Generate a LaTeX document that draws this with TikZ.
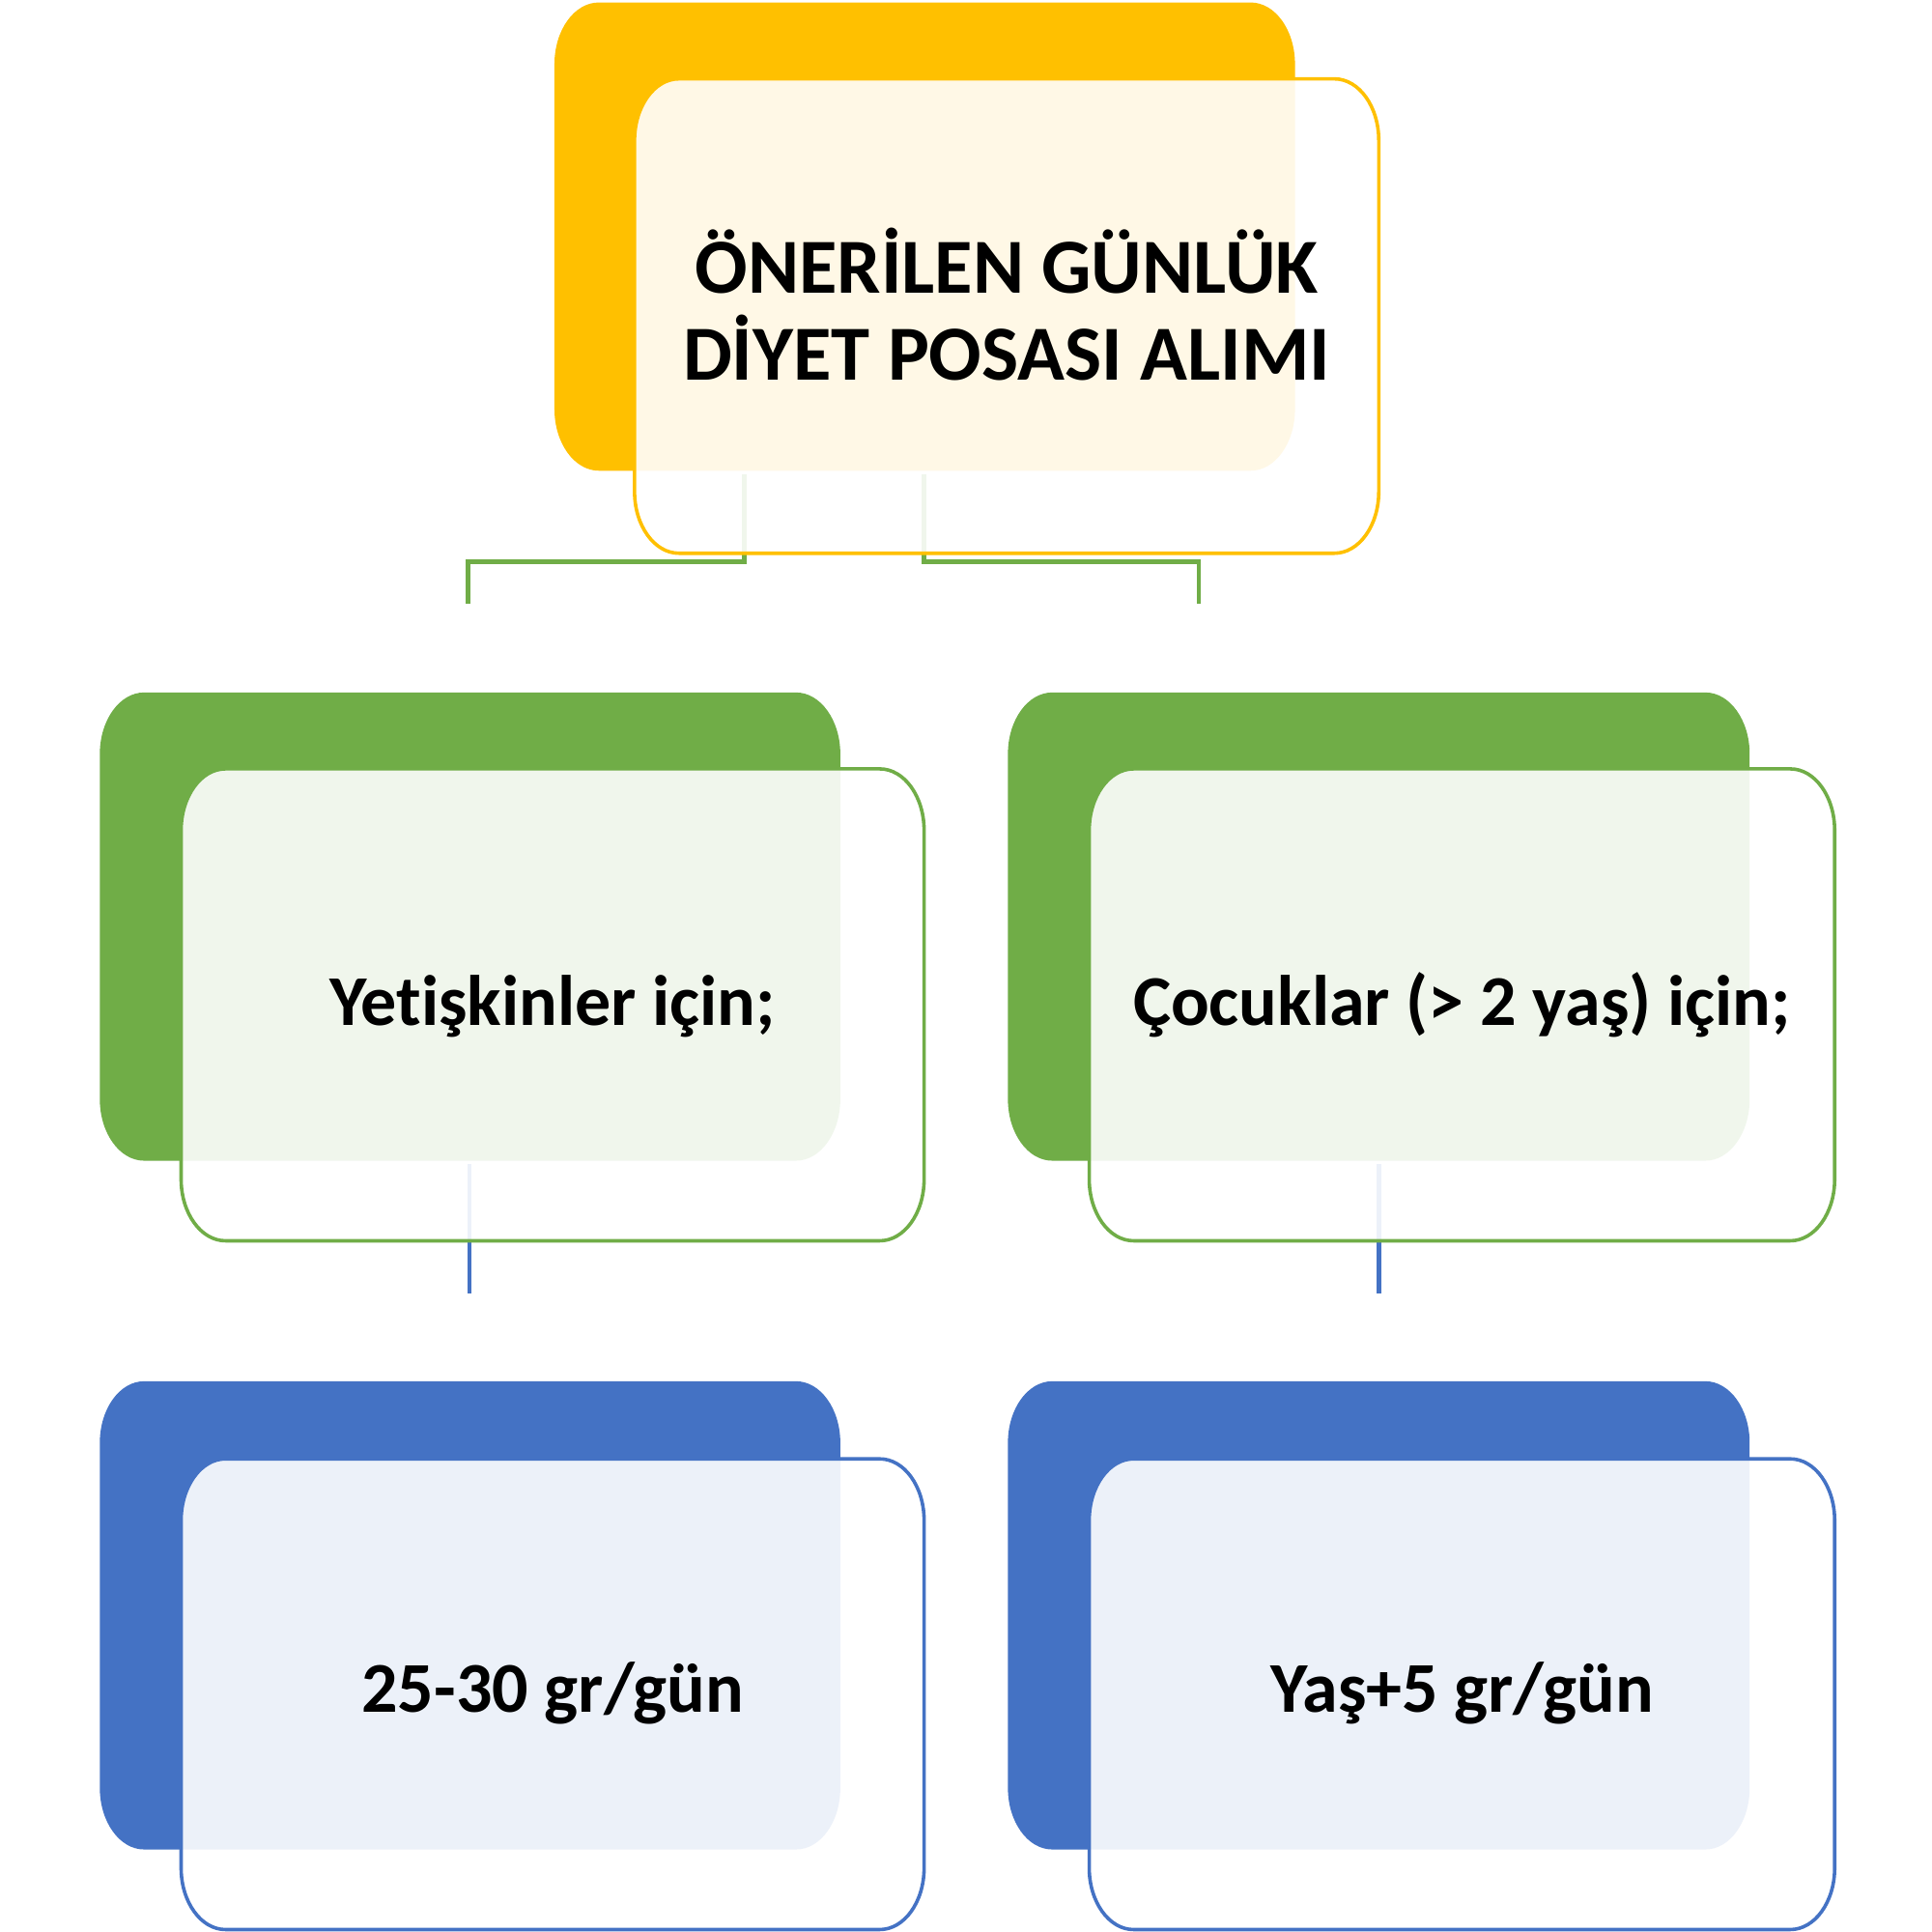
\documentclass[tikz,border=0pt]{standalone}
\usepackage{fontspec}
\setmainfont{Carlito}[Ligatures={NoCommon}]
\definecolor{cyel}{HTML}{FFC000}
\definecolor{cgrn}{HTML}{70AD47}
\definecolor{cblu}{HTML}{4472C4}
\newcommand\rrx{36}
\newcommand\rry{50}
% #1 options, #2 x1, #3 y1, #4 x2, #5 y2  (y grows downward)
\newcommand\rrbox[5]{\path[#1] (#2+\rrx,#3) -- (#4-\rrx,#3)
  arc[start angle=-90,end angle=0,x radius=\rrx,y radius=\rry] -- (#4,#5-\rry)
  arc[start angle=0,end angle=90,x radius=\rrx,y radius=\rry] -- (#2+\rrx,#5)
  arc[start angle=90,end angle=180,x radius=\rrx,y radius=\rry] -- (#2,#3+\rry)
  arc[start angle=180,end angle=270,x radius=\rrx,y radius=\rry] -- cycle;}
\begin{document}
\begin{tikzpicture}[x=0.1mm,y=-0.1mm,
  frontbox/.style={fill=white,fill opacity=0.9,draw=#1,line width=0.8pt},
  conn/.style={draw=#1,line width=1pt},
  lbl/.style={inner sep=0pt,align=center,anchor=base,font=\bfseries\fontsize{16.5}{19}\selectfont},
  toplbl/.style={inner sep=0pt,align=center,font=\bfseries\fontsize{18}{20}\selectfont}]
\fill[white] (0,0) rectangle (1568,1568);
\path[use as bounding box] (0,0) rectangle (1568,1568);
% back boxes
\rrbox{fill=cyel}{450}{2}{1051}{382}
\rrbox{fill=cgrn}{81}{562}{682}{942}
\rrbox{fill=cgrn}{818}{562}{1420}{942}
\rrbox{fill=cblu}{81}{1121}{682}{1501}
\rrbox{fill=cblu}{818}{1121}{1420}{1501}
% connector end points
\coordinate (ta) at (604,385);
\coordinate (tb) at (750,385);
\coordinate (la) at (380,490);
\coordinate (ra) at (973,490);
\coordinate (lb) at (381,945);
\coordinate (lc) at (381,1050);
\coordinate (rb) at (1119,945);
\coordinate (rc) at (1119,1050);
\draw[conn=cgrn] (ta) -- ++(0,71) -| (la);
\draw[conn=cgrn] (tb) -- ++(0,71) -| (ra);
\draw[conn=cblu] (lb) -- (lc);
\draw[conn=cblu] (rb) -- (rc);
% front boxes
\rrbox{frontbox=cyel}{515}{64}{1119}{449}
\rrbox{frontbox=cgrn}{147}{624}{750}{1007}
\rrbox{frontbox=cgrn}{884}{624}{1489}{1007}
\rrbox{frontbox=cblu}{147}{1184}{750}{1566}
\rrbox{frontbox=cblu}{884}{1184}{1489}{1566}
% labels
\node[toplbl] (top) at (817,247) {ÖNERİLEN GÜNLÜK\\DİYET POSASI ALIMI};
\node[lbl] (adult) at (448.5,832) {Yet{\kern0pt}işkinler için;};
\node[lbl] (child) at (1186.5,832) {Çocuklar (> 2 yaş) için;};
\node[lbl] (adultv) at (448.5,1390) {25-30 gr/gün};
\node[lbl] (childv) at (1186.5,1390) {Yaş+5 gr/gün};
\end{tikzpicture}
\end{document}
